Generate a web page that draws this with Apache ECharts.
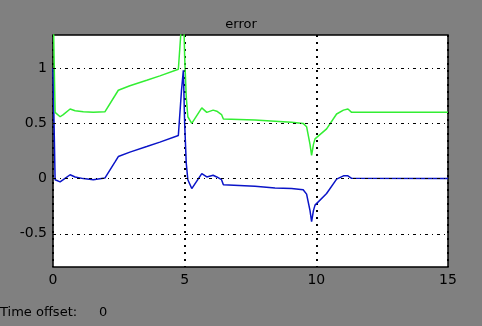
<!DOCTYPE html>
<html>
<head>
<meta charset="utf-8">
<script src="https://cdn.jsdelivr.net/npm/echarts@6/dist/echarts.min.js"></script>
<style>
  html, body { margin: 0; padding: 0; background: #808080; }
  #myChart { width: 482px; height: 326px; }
</style>
</head>
<body>
<div id="myChart"></div>
<script>
// scope data
const time = [0, 0.04, 0.08, 0.27, 0.39, 0.65, 0.84, 1.15, 1.53, 1.97, 2.35, 2.48, 2.92, 3.56, 4.06, 4.76, 4.88, 4.95, 5.0, 5.06, 5.12, 5.27, 5.65, 5.84, 6.08, 6.22, 6.4, 6.47, 7.67, 8.43, 9.06, 9.5, 9.63, 9.76, 9.82, 9.89, 9.95, 10.39, 10.77, 11.03, 11.2, 11.34, 15]
const blue = [1.0, 0.5, -0.01, -0.03, -0.01, 0.035, 0.015, 0.0, -0.01, 0.005, 0.15, 0.2, 0.24, 0.29, 0.33, 0.39, 0.8, 0.98, 0.5, 0.14, -0.01, -0.09, 0.045, 0.015, 0.03, 0.015, -0.01, -0.055, -0.07, -0.085, -0.09, -0.1, -0.14, -0.29, -0.39, -0.29, -0.24, -0.135, -0.005, 0.025, 0.025, 0.003, 0.0]
const green = [1.65, 1.1, 0.6, 0.56, 0.58, 0.63, 0.615, 0.605, 0.6, 0.605, 0.75, 0.8, 0.84, 0.89, 0.93, 0.99, 1.4, 1.6, 1.1, 0.74, 0.56, 0.5, 0.64, 0.6, 0.62, 0.61, 0.58, 0.54, 0.53, 0.52, 0.51, 0.5, 0.47, 0.31, 0.21, 0.31, 0.36, 0.45, 0.585, 0.62, 0.63, 0.6, 0.6]
const yTicks = [-0.5, 0, 0.5, 1]

const myChart = echarts.init(document.getElementById('myChart'))
const font = 'DejaVu Sans'

myChart.setOption({
  backgroundColor: '#808080',
  animation: false,
  title: {
    text: 'error',
    left: 'center',
    top: 13,
    textStyle: { color: '#000', fontFamily: font, fontSize: 13, fontWeight: 'normal' }
  },
  graphic: [
    { type: 'text', left: 0, top: 306, style: { text: 'Time offset:', fill: '#000', font: '13px ' + font } },
    { type: 'text', left: 99, top: 306, style: { text: '0', fill: '#000', font: '13px ' + font } }
  ],
  grid: {
    left: 53,
    right: 34,
    top: 35,
    bottom: 59,
    show: true,
    backgroundColor: '#fff',
    borderColor: '#000',
    borderWidth: 1.5
  },
  xAxis: {
    type: 'value',
    min: 0,
    max: 15,
    interval: 5,
    axisLine: { show: false },
    axisTick: { show: false },
    axisLabel: { color: '#000', fontFamily: font, fontSize: 14, margin: 6 },
    splitLine: {
      show: true,
      lineStyle: { color: '#000', width: 2, type: [2, 5] }
    }
  },
  yAxis: {
    type: 'value',
    min: -0.8,
    max: 1.3,
    axisLine: { show: false },
    axisTick: { show: false },
    axisLabel: {
      color: '#000',
      fontFamily: font,
      fontSize: 14,
      margin: 6,
      customValues: yTicks
    },
    splitLine: { show: false }
  },
  series: [
    {
      // horizontal grid (dash-dot)
      type: 'line',
      data: [],
      z: 1,
      markLine: {
        silent: true,
        symbol: 'none',
        label: { show: false },
        lineStyle: { color: '#000', width: 1, type: [3, 4, 1, 4] },
        data: yTicks.map(v => ({ yAxis: v }))
      }
    },
    {
      name: 'blue',
      type: 'line',
      z: 3,
      showSymbol: false,
      data: time.map((t, i) => [t, blue[i]]),
      lineStyle: { color: '#0a14c8', width: 1.5 }
    },
    {
      name: 'green',
      type: 'line',
      z: 4,
      showSymbol: false,
      data: time.map((t, i) => [t, green[i]]),
      lineStyle: { color: '#33ee33', width: 1.5 }
    }
  ]
})
</script>
</body>
</html>
